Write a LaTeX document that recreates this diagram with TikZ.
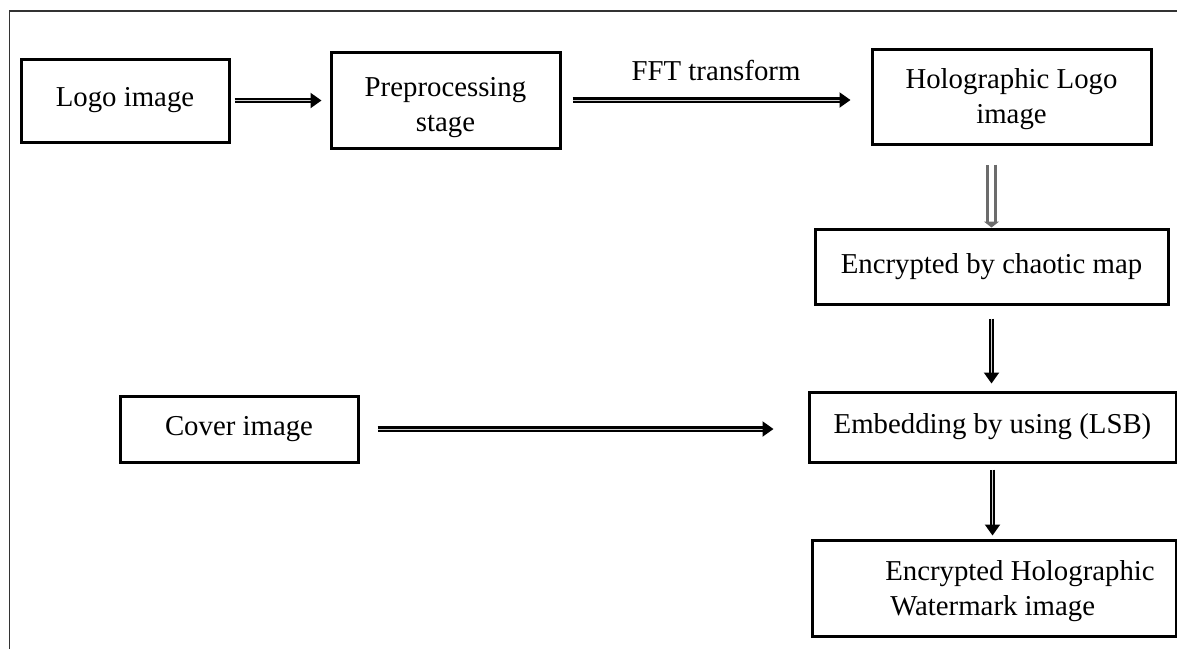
\documentclass[tikz,border=0pt]{standalone}
\usepackage{fontspec}
\setmainfont{Liberation Serif}
\usetikzlibrary{arrows.meta,positioning,calc}

\begin{document}
\begin{tikzpicture}[x=0.5pt, y=-0.5pt,
  stage/.style={draw,line width=1.5pt,align=center,inner sep=0pt,
                font=\fontsize{14.4}{17.5}\selectfont},
  flow/.style={double=gray!35,double distance=0.5pt,line width=1.05pt,
               -{Triangle[length=5.5pt,width=7.5pt]}},
  greyflow/.style={draw=gray!85!black,double=white,double distance=2.8pt,line width=1.5pt,
               -{Triangle[length=3pt,width=7.5pt]}}]
  \useasboundingbox (0,0) rectangle (1177,649);
  % page frame
  \draw[line width=0.8pt,black!80] (9.5,649) -- (9.5,11) -- (1177,11);

  \node[stage,minimum width=104pt,minimum height=41.5pt] (logo) at (125,100.5) {Logo image};
  \node[stage,minimum width=114.5pt,minimum height=48pt] (prep) at (445.5,100) {\rule{0pt}{17pt}Preprocessing\\stage};
  \node[stage,minimum width=139.5pt,minimum height=47.5pt] (holo) at (1011.5,96.5) {\rule{0pt}{13pt}Holographic Logo\\image};
  \node[stage,minimum width=176.5pt,minimum height=37.5pt] (chaos) at (991.5,266.5) {Encrypted by chaotic map};
  \node[stage,minimum width=119pt,minimum height=33pt] (cover) at (239,429) {Cover image};
  \node[stage,minimum width=183.5pt,minimum height=35pt] (embed) at (992.5,427) {Embedding by using (LSB)};
  \node[stage,minimum width=182pt,minimum height=48pt,align=left] (wmark) at (994,588)
    {\hspace*{26pt}\rule{0pt}{13pt}Encrypted Holographic\\\hspace*{28.5pt}Watermark image};

  \draw[flow,shorten <=2pt,shorten >=4pt] (logo.east) -- (logo.east -| prep.west);
  \draw[flow,shorten <=5.5pt,shorten >=10pt] (prep.east) -- (prep.east -| holo.west)
    node[midway,above=6pt,font=\fontsize{14.4}{17.5}\selectfont] (fft) {FFT transform};
  \draw[greyflow,shorten <=9.5pt] (holo.south -| chaos.north) -- (chaos.north);
  \draw[flow,shorten <=6.5pt,shorten >=3.5pt] (chaos.south) -- (chaos.south |- embed.north);
  \draw[flow,shorten <=9pt,shorten >=17pt] (cover.east) -- (cover.east -| embed.west);
  \draw[flow,shorten <=3pt,shorten >=1.5pt] (embed.south) -- (embed.south |- wmark.north);
\end{tikzpicture}
\end{document}
